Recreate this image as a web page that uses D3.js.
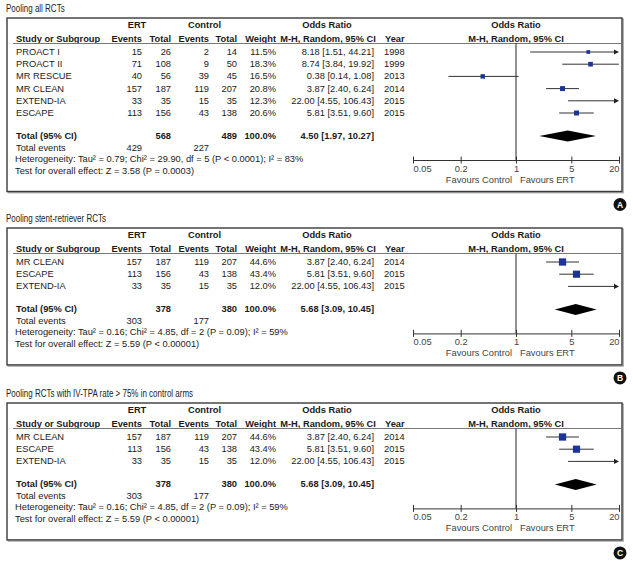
<!DOCTYPE html>
<html><head><meta charset="utf-8">
<script src="https://cdn.jsdelivr.net/npm/d3@7"></script>
<style>
body{margin:0;background:#fff;}
svg{display:block;font-family:"Liberation Sans",Arial,sans-serif;}
</style></head><body>
<svg id="c" width="633" height="561"></svg>
<script>
// ---------- data ----------
const panelTitles = ["Pooling all RCTs", "Pooling stent-retriever RCTs", "Pooling RCTs with IV-TPA rate > 75% in control arms"];
const panelLetters = ["A", "B", "C"];

const studiesA = ["PROACT I", "PROACT II", "MR RESCUE", "MR CLEAN", "EXTEND-IA", "ESCAPE"];
const ertEventsA = [15, 71, 40, 157, 33, 113];
const ertTotalA = [26, 108, 56, 187, 35, 156];
const ctrlEventsA = [2, 9, 39, 119, 15, 43];
const ctrlTotalA = [14, 50, 45, 207, 35, 138];
const weightA = [11.5, 18.3, 16.5, 20.8, 12.3, 20.6];
const orA = [8.18, 8.74, 0.38, 3.87, 22.00, 5.81];
const loA = [1.51, 3.84, 0.14, 2.40, 4.55, 3.51];
const hiA = [44.21, 19.92, 1.08, 6.24, 106.43, 9.60];
const yearA = [1998, 1999, 2013, 2014, 2015, 2015];
const totalsA = [568, 489];
const totalEventsA = [429, 227];
const pooledA = [4.50, 1.97, 10.27];
const hetA = "Heterogeneity: Tau\u00B2 = 0.79; Chi\u00B2 = 29.90, df = 5 (P < 0.0001); I\u00B2 = 83%";
const testA = "Test for overall effect: Z = 3.58 (P = 0.0003)";

const studiesB = ["MR CLEAN", "ESCAPE", "EXTEND-IA"];
const ertEventsB = [157, 113, 33];
const ertTotalB = [187, 156, 35];
const ctrlEventsB = [119, 43, 15];
const ctrlTotalB = [207, 138, 35];
const weightB = [44.6, 43.4, 12.0];
const orB = [3.87, 5.81, 22.00];
const loB = [2.40, 3.51, 4.55];
const hiB = [6.24, 9.60, 106.43];
const yearB = [2014, 2015, 2015];
const totalsB = [378, 380];
const totalEventsB = [303, 177];
const pooledB = [5.68, 3.09, 10.45];
const hetB = "Heterogeneity: Tau\u00B2 = 0.16; Chi\u00B2 = 4.85, df = 2 (P = 0.09); I\u00B2 = 59%";
const testB = "Test for overall effect: Z = 5.59 (P < 0.00001)";

const tickValues = [0.05, 0.2, 1, 5, 20];
const tickLabels = ["0.05", "0.2", "1", "5", "20"];
const favourLabels = ["Favours Control", "Favours ERT"];

// ---------- drawing ----------
const svg = d3.select("#c");
const x = d3.scaleLog().domain([0.05, 20]).range([413, 619]);
const fmt = d3.format(".2f");
const ciText = (o, l, h) => `${fmt(o)} [${fmt(l)}, ${fmt(h)}]`;

const panels = [
  {top: 18, names: studiesA, ee: ertEventsA, et: ertTotalA, ce: ctrlEventsA, ct: ctrlTotalA, w: weightA, or: orA, lo: loA, hi: hiA, yr: yearA, tot: totalsA, ev: totalEventsA, pooled: pooledA, het: hetA, test: testA},
  {top: 228, names: studiesB, ee: ertEventsB, et: ertTotalB, ce: ctrlEventsB, ct: ctrlTotalB, w: weightB, or: orB, lo: loB, hi: hiB, yr: yearB, tot: totalsB, ev: totalEventsB, pooled: pooledB, het: hetB, test: testB},
  {top: 403, names: studiesB, ee: ertEventsB, et: ertTotalB, ce: ctrlEventsB, ct: ctrlTotalB, w: weightB, or: orB, lo: loB, hi: hiB, yr: yearB, tot: totalsB, ev: totalEventsB, pooled: pooledB, het: hetB, test: testB}
];

const FS = 9.3;
const TXT = "#1a1a1a";
const col = {name: 16, ee: 142, et: 171, ce: 209, ct: 237, w: 276, or: 374, yr: 384};

function txt(g, x0, y0, s, anchor, bold, color, size) {
  return g.append("text").attr("x", x0).attr("y", y0).text(s)
    .attr("text-anchor", anchor || "start")
    .attr("dominant-baseline", "central")
    .attr("font-size", size || FS)
    .attr("font-weight", bold ? "bold" : "normal")
    .attr("fill", color || TXT);
}

panels.forEach((p, pi) => {
  const g = svg.append("g");
  const top = p.top;
  const rows = p.names.map((_, i) => top + 34 + i * 12.2);
  const last = rows[rows.length - 1];
  const yTot = last + 23, yEv = yTot + 11.5, yHet = yEv + 11.5, yTest = yHet + 11.5;
  const yAxis = yTot + 24;
  const bottom = yTest + 21;

  // title (condensed)
  g.append("text").attr("transform", `translate(6,${top - 9}) scale(0.8,1)`)
    .attr("dominant-baseline", "central")
    .attr("font-size", 10).attr("fill", "#222").text(panelTitles[pi]);

  // box with shadow
  g.append("rect").attr("x", 8.2).attr("y", top + 1.2).attr("width", 615).attr("height", bottom - top)
    .attr("fill", "none").attr("stroke", "#aaa").attr("stroke-width", 1.4);
  g.append("rect").attr("x", 7).attr("y", top).attr("width", 615).attr("height", bottom - top)
    .attr("fill", "#fff").attr("stroke", "#3a3a3a").attr("stroke-width", 1.4);

  // headers
  const h1 = top + 7, h2 = top + 21;
  txt(g, 137, h1, "ERT", "middle", true);
  txt(g, 204.5, h1, "Control", "middle", true);
  txt(g, 327, h1, "Odds Ratio", "middle", true);
  txt(g, 516, h1, "Odds Ratio", "middle", true);
  txt(g, col.name, h2, "Study or Subgroup", "start", true);
  txt(g, col.ee, h2, "Events", "end", true);
  txt(g, col.et, h2, "Total", "end", true);
  txt(g, col.ce, h2, "Events", "end", true);
  txt(g, col.ct, h2, "Total", "end", true);
  txt(g, col.w, h2, "Weight", "end", true);
  txt(g, 328, h2, "M-H, Random, 95% CI", "middle", true);
  txt(g, col.yr + 1, h2, "Year", "start", true);
  txt(g, 516, h2, "M-H, Random, 95% CI", "middle", true);
  g.append("line").attr("x1", 13).attr("x2", 621).attr("y1", top + 25.5).attr("y2", top + 25.5)
    .attr("stroke", "#777").attr("stroke-width", 1);

  // null line
  g.append("line").attr("x1", x(1)).attr("x2", x(1)).attr("y1", top + 25.5).attr("y2", yAxis)
    .attr("stroke", "#222").attr("stroke-width", 1);

  // study rows
  p.names.forEach((n, i) => {
    const y = rows[i];
    txt(g, col.name, y, n);
    txt(g, col.ee, y, p.ee[i], "end");
    txt(g, col.et, y, p.et[i], "end");
    txt(g, col.ce, y, p.ce[i], "end");
    txt(g, col.ct, y, p.ct[i], "end");
    txt(g, col.w, y, p.w[i].toFixed(1) + "%", "end");
    txt(g, col.or, y, ciText(p.or[i], p.lo[i], p.hi[i]), "end");
    txt(g, col.yr, y, p.yr[i], "start");

    const [d0, d1] = x.domain();
    const lo = Math.max(p.lo[i], d0), hi = Math.min(p.hi[i], d1);
    const xr = x(hi) - (p.hi[i] > d1 ? 3 : 0);
    g.append("line").attr("x1", x(lo)).attr("x2", xr).attr("y1", y).attr("y2", y)
      .attr("stroke", "#333").attr("stroke-width", 1);
    if (p.hi[i] > d1) {
      const ax = x(d1);
      g.append("path").attr("d", `M${ax},${y} L${ax - 5},${y - 2.6} L${ax - 5},${y + 2.6} Z`).attr("fill", "#222");
    }
    if (p.or[i] >= d0 && p.or[i] <= d1) {
      const s = 1.09 * Math.sqrt(p.w[i]);
      g.append("rect").attr("x", x(p.or[i]) - s / 2).attr("y", y - s / 2).attr("width", s).attr("height", s)
        .attr("fill", "#1d3495");
    }
  });

  // totals
  txt(g, col.name, yTot, "Total (95% CI)", "start", true);
  txt(g, col.et, yTot, p.tot[0], "end", true);
  txt(g, col.ct, yTot, p.tot[1], "end", true);
  txt(g, col.w, yTot, "100.0%", "end", true);
  txt(g, col.or, yTot, ciText(p.pooled[0], p.pooled[1], p.pooled[2]), "end", true);
  const dh = 5.5;
  g.append("path").attr("d",
    `M${x(p.pooled[1])},${yTot} L${x(p.pooled[0])},${yTot - dh} L${x(p.pooled[2])},${yTot} L${x(p.pooled[0])},${yTot + dh} Z`)
    .attr("fill", "#000");

  txt(g, col.name, yEv, "Total events");
  txt(g, col.ee, yEv, p.ev[0], "end");
  txt(g, col.ce, yEv, p.ev[1], "end");
  txt(g, col.name - 1, yHet, p.het);
  txt(g, col.name - 1, yTest, p.test);

  // axis
  const axis = d3.axisBottom(x).tickValues(tickValues)
    .tickFormat((d, i) => tickLabels[i]).tickSize(3).tickSizeOuter(0).tickPadding(3);
  const ag = g.append("g").attr("transform", `translate(0,${yAxis})`).call(axis);
  ag.select(".domain").attr("stroke", "#333").attr("stroke-width", 1);
  ag.selectAll(".tick line").attr("y1", -3.5).attr("y2", 3.5).attr("stroke", "#333");
  const nT = tickValues.length;
  ag.selectAll(".tick text").attr("font-size", FS).attr("fill", "#444")
    .attr("font-family", "'Liberation Sans',Arial,sans-serif").attr("y", 5)
    .attr("text-anchor", (d, i) => i === 0 ? "start" : (i === nT - 1 ? "end" : "middle"));

  txt(g, 512, yAxis + 20, favourLabels[0], "end", false, "#444");
  txt(g, 520, yAxis + 20, favourLabels[1], "start", false, "#444");

  // panel letter
  const cy = bottom + 13;
  g.append("circle").attr("cx", 620).attr("cy", cy).attr("r", 6.5).attr("fill", "#111");
  g.append("text").attr("x", 620).attr("y", cy + 0.5).attr("text-anchor", "middle").attr("dominant-baseline", "central")
    .attr("font-size", 8.5).attr("font-weight", "bold").attr("fill", "#fff").text(panelLetters[pi]);
});
</script>
</body></html>
